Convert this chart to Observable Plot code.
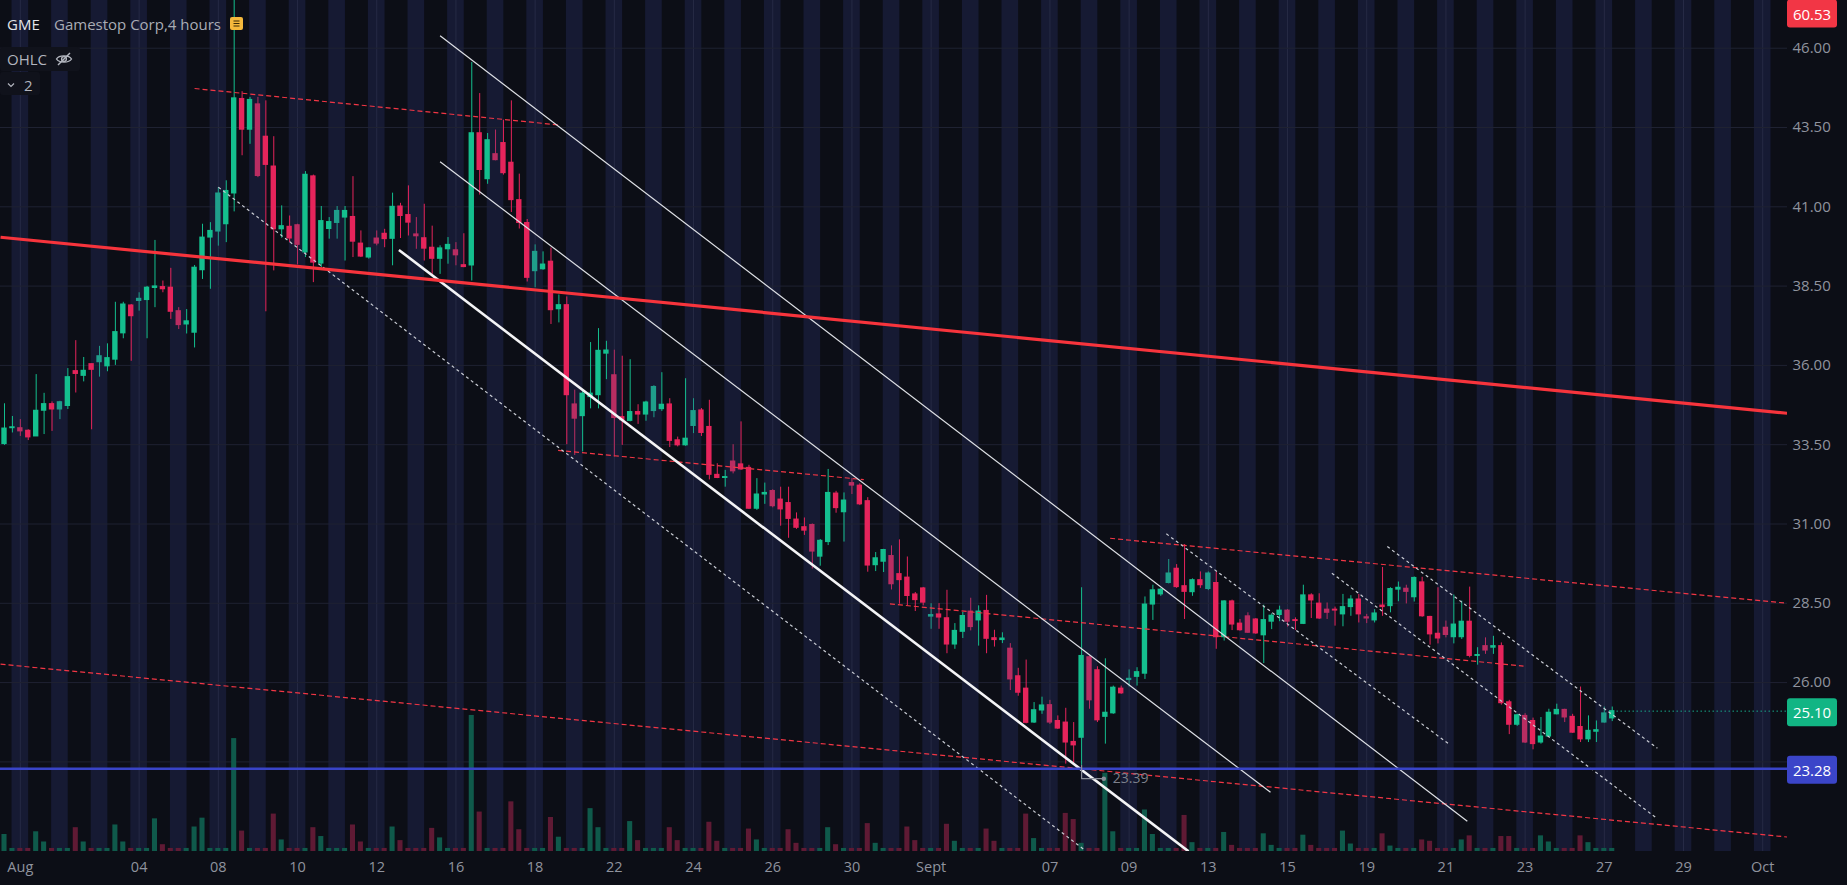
<!DOCTYPE html>
<html><head><meta charset="utf-8">
<script src="https://cdn.jsdelivr.net/npm/d3@7"></script>
<script src="https://cdn.jsdelivr.net/npm/@observablehq/plot@0.6"></script>
<style>
html,body{margin:0;padding:0;background:#0c0e16;}
#wrap{position:relative;width:1847px;height:885px;overflow:hidden;background:#0c0e16;font-family:"Open Sans",sans-serif;}
#wrap > svg{position:absolute;left:0;top:0;}
.lg{position:absolute;white-space:nowrap;font-size:15px;line-height:20px;}
</style></head><body><div id="wrap"></div>
<script>
// ---- candle data (4h bars, index 0 = Jul 29 3rd session bar) ----
const open = [
33.52,34.02,34.02,33.94,33.76, 34.57,34.78,34.61,34.72,35.82, 35.67,36.04,36.10,35.97,36.18,
37.01,37.89,38.03,38.06,38.44, 38.47,38.45,37.71,37.29,37.03, 39.00,40.03,40.22,40.45,41.42,
44.40,43.43,44.23,43.21,42.27, 40.29,40.37,40.42,39.56,41.96, 39.21,40.30,40.49,40.66,40.68,
39.84,39.40,40.00,40.15,39.99, 41.01,40.74,40.13,40.01,39.71, 39.36,39.66,39.63,39.16,39.15,
43.32,41.87,42.66,43.01,42.39, 41.21,40.49,38.97,39.03,39.27, 37.77,37.90,34.77,34.40,35.00,
35.06,36.37,35.69,34.37,34.25, 34.53,34.45,34.56,34.62,34.77, 33.64,33.48,34.09,34.58,34.06,
32.55,32.45,32.97,32.88,32.77, 31.48,31.93,32.04,31.77,31.66, 31.14,30.90,30.97,29.97,30.43,
31.96,31.37,32.29,32.21,31.72, 29.70,29.81,29.99,29.42,29.31, 28.78,28.97,28.08,28.15,28.03,
27.20,27.60,28.24,27.96,28.26, 27.40,27.34,27.07,26.20,25.81, 24.74,25.12,25.29,24.79,24.74,
24.13,24.26,26.80,26.39,24.92, 25.03,25.81,26.08,26.18,26.28, 28.46,28.78,29.14,29.59,29.04,
28.85,29.23,28.95,29.14,27.43, 28.56,27.86,28.09,27.99,27.49, 27.92,28.13,28.27,27.97,27.85,
28.75,28.49,28.30,28.30,28.15, 28.38,28.62,28.06,27.96,28.43, 28.41,28.93,28.96,28.69,29.16,
28.07,27.54,27.73,27.43,27.43, 27.92,26.84,27.15,27.10,27.15, 25.38,24.67,24.95,24.79,24.11,
24.30,25.00,25.14,24.92,24.60, 24.21,24.45,24.74,24.87];
const high = [
34.79,34.39,34.29,33.97,35.71, 35.12,34.85,34.87,35.90,36.78, 36.25,36.04,36.60,36.68,37.99,
37.99,37.92,38.29,38.49,39.94, 38.66,39.06,37.82,37.76,39.15, 40.45,40.50,41.61,41.82,48.00,
44.63,44.45,44.45,44.34,43.21, 41.03,40.71,40.45,42.11,42.00, 41.01,40.66,41.01,41.01,41.95,
40.24,39.71,40.24,40.29,41.43, 41.11,41.66,40.66,41.08,40.39, 39.77,40.03,39.87,40.15,45.55,
44.57,43.31,43.42,43.73,44.34, 42.03,40.60,39.80,39.58,39.70, 38.22,38.16,35.22,35.22,36.72,
37.16,36.76,36.48,36.29,36.18, 34.76,34.87,35.36,35.77,34.95, 33.74,35.58,34.95,34.64,34.90,
32.90,32.69,33.50,34.22,32.85, 32.43,32.29,32.08,32.16,32.16, 31.35,31.19,31.00,30.51,32.72,
32.03,31.98,32.43,32.27,31.83, 30.10,30.20,30.31,30.50,29.96, 28.84,29.00,28.49,28.49,28.91,
27.86,28.21,28.66,28.42,28.75, 27.65,27.57,27.23,26.45,26.71, 25.37,25.54,25.44,24.95,25.19,
24.74,28.99,26.84,26.50,26.75, 25.89,25.89,26.40,26.47,28.70, 29.07,28.96,29.88,29.72,30.35,
29.27,29.49,29.49,29.49,28.58, 28.60,27.99,28.20,28.02,28.44, 28.17,28.41,28.30,28.04,29.07,
28.80,28.80,28.51,28.38,28.78, 28.74,28.78,28.15,28.30,29.63, 28.99,29.17,29.07,29.33,29.32,
28.09,28.99,27.94,28.76,28.57, 29.01,27.10,27.41,27.46,27.25, 25.44,25.00,25.02,24.88,24.90,
25.16,25.32,25.16,25.00,25.86, 24.95,24.79,25.23,25.23];
const low = [
33.48,33.87,33.76,33.63,33.76, 33.82,33.92,34.29,34.61,35.13, 35.48,33.97,35.63,35.80,36.00,
36.84,36.13,37.71,36.84,37.82, 38.29,37.45,37.13,36.99,36.55, 38.71,38.40,39.76,39.87,40.84,
42.61,42.97,41.92,37.69,38.98, 40.01,39.87,39.17,39.40,38.61, 39.08,39.98,39.98,39.29,39.40,
39.40,39.35,39.77,39.71,39.14, 40.00,40.08,39.66,39.29,38.87, 38.87,39.19,39.14,39.08,38.66,
41.37,41.71,42.45,42.00,40.82, 40.30,38.63,38.45,39.00,37.29, 37.34,33.50,33.16,33.27,34.63,
34.63,35.55,33.11,33.48,34.22, 34.14,34.24,34.35,34.55,33.41, 33.43,33.45,33.85,33.76,32.39,
32.43,32.16,32.58,32.69,31.46, 31.43,31.62,31.51,30.93,30.55, 30.83,30.64,29.58,29.67,30.32,
31.34,30.43,31.93,31.58,29.48, 29.50,29.47,28.92,28.47,28.42, 28.24,28.42,27.68,27.68,26.91,
27.05,27.39,27.63,27.15,26.91, 27.12,27.23,25.75,25.57,24.70, 24.71,25.00,24.68,24.52,23.43,
23.43,23.39,25.16,24.74,24.06, 25.00,25.63,25.86,25.89,26.10, 27.96,28.72,29.11,28.97,27.99,
28.72,28.97,28.90,27.05,27.31, 27.64,27.62,27.55,27.52,26.60, 27.67,27.92,27.75,27.64,27.83,
28.02,27.99,27.99,27.78,27.76, 28.09,27.88,27.86,27.88,28.09, 28.20,28.55,28.48,28.54,28.06,
27.18,27.22,27.41,27.22,27.36, 26.78,26.55,26.89,26.89,25.29, 24.36,24.62,24.08,23.88,24.06,
24.28,24.98,24.74,24.40,24.11, 24.11,24.11,24.72,24.77];
const close = [
34.01,34.05,33.92,33.73,34.57, 34.78,34.61,34.84,35.63,35.73, 35.83,35.86,36.29,36.23,37.05,
37.92,37.55,38.10,38.45,38.49, 38.40,37.69,37.27,37.39,39.08, 40.03,40.24,41.42,41.50,44.42,
43.43,44.37,41.97,42.32,40.29, 40.39,40.00,39.80,42.01,39.24, 40.55,40.52,40.87,40.87,39.90,
39.43,39.69,39.84,39.98,41.00, 40.71,40.50,40.07,39.68,39.36, 39.69,39.80,39.47,39.10,43.32,
42.16,43.10,42.47,42.06,41.21, 40.49,38.76,39.58,39.18,37.74, 37.90,35.06,34.32,35.11,35.11,
36.46,36.47,34.34,34.27,34.53, 34.45,34.83,35.32,34.76,33.62, 33.48,33.69,34.56,33.87,32.55,
32.45,32.48,32.66,32.72,31.48, 31.93,31.98,31.56,31.46,31.16, 30.88,30.79,30.13,30.47,31.98,
31.50,31.74,32.21,31.62,29.69, 29.92,30.18,29.10,29.23,28.73, 28.60,28.52,28.13,28.05,27.20,
27.63,28.10,27.75,28.24,27.38, 27.34,27.39,26.10,25.68,24.73, 25.13,25.28,24.74,24.55,24.11,
24.02,26.84,25.44,24.81,25.05, 25.84,25.66,26.12,26.33,28.46, 28.91,28.93,29.44,29.01,28.86,
29.23,29.07,29.44,27.43,28.56, 27.83,27.65,27.57,27.55,27.97, 28.11,28.27,27.92,27.94,28.75,
28.59,28.02,28.20,28.27,28.38, 28.62,28.15,28.02,28.18,28.38, 28.95,28.99,28.86,29.30,28.09,
27.52,27.39,27.50,27.83,27.92, 26.84,26.87,27.01,27.15,25.35, 24.67,24.97,24.11,24.06,24.30,
25.05,25.14,24.90,24.42,24.21, 24.48,24.50,25.03,25.10];
// volume, millions
const volume = [
2.5,0.45,0.45,0.45,2.9, 1.4,0.45,0.45,0.45,3.5, 1.4,0.45,0.45,0.45,3.9, 1.4,0.45,0.45,0.45,4.8,
1.0,0.45,0.45,0.45,3.6, 4.9,0.45,0.45,0.45,16.6, 3.0,0.45,0.45,0.45,5.5, 1.7,0.45,0.45,0.45,3.5,
2.2,0.45,0.45,0.45,3.9, 1.4,0.45,0.45,0.45,3.6, 1.6,0.45,0.45,0.45,3.4, 2.0,0.45,0.45,0.45,20.0,
5.8,0.45,0.45,0.45,7.3, 3.2,0.45,0.45,0.45,5.0, 2.1,0.45,0.45,0.45,6.3, 3.5,0.45,0.45,0.45,4.4,
1.6,0.45,0.45,0.45,3.5, 1.6,0.45,0.45,0.45,4.3, 1.5,0.45,0.45,0.45,3.3, 1.7,0.45,0.45,0.45,3.2,
1.2,0.45,0.45,0.45,3.5, 1.0,0.45,0.45,0.45,4.1, 1.2,0.45,0.45,0.45,3.6, 1.6,0.45,0.45,0.45,4.0,
1.5,0.45,0.45,0.45,3.3, 1.5,0.45,0.45,0.45,5.5, 1.9,0.45,0.45,0.45,5.6, 4.7,1.2,0.45,0.45,11.5,
2.9,0.45,0.45,0.45,6.1, 2.5,0.45,0.45,0.45,5.3, 1.3,0.45,0.45,0.45,2.8, 0.9,0.45,0.45,0.45,2.6,
0.9,0.45,0.45,0.45,2.4, 0.9,0.45,0.45,0.45,3.0, 1.1,0.45,0.45,0.45,2.6, 0.8,0.45,0.45,0.45,1.7,
1.5,0.45,0.45,0.45,1.7, 2.3,0.45,0.45,0.45,2.2, 2.2,0.45,0.45,0.45,2.3, 1.4,0.45,0.45,0.45,2.3,
1.3,0.45,0.45,0.45];

// ---- time axis ----
const barsPerDay = 5;
const firstDayBar = 2;            // first bar of Aug 1
const tradingDays = 45;           // Aug 1 .. Oct 3
const tickDays   = [0,3,5,7,9,11,13,15,17,19,21,23,26,28,30,32,34,36,38,40,42,44];
const tickLabels = ["Aug","04","08","10","12","16","18","22","24","26","30","Sept","07","09","13","15","19","21","23","27","29","Oct"];
const dayBar = d => firstDayBar + barsPerDay * d;

// ---- price axis ----
const priceTicks = [26, 28.5, 31, 33.5, 36, 38.5, 41, 43.5, 46];
const gridPrices = [23.5, ...priceTicks];
const xDomain = [-0.505, 225.13];
const yDomain = [20.675, 47.504];
const volDomain = [0, 125.1];

// ---- drawings (bar index, price) ----
const drawings = [
  {kind:"trend",     x1:-0.5,  y1:40.04, x2:225.13, y2:34.49},
  {kind:"redDash",   x1:24,    y1:44.73, x2:70,     y2:43.58},
  {kind:"white",     x1:55,    y1:46.39, x2:184.7,  y2:21.63},
  {kind:"white",     x1:55,    y1:42.42, x2:159.85, y2:22.54},
  {kind:"whiteBold", x1:49.8,  y1:39.64, x2:149.5,  y2:20.68},
  {kind:"whiteDash", x1:27.0,  y1:41.62, x2:136.5,  y2:20.70},
  {kind:"redDash",   x1:69.9,  y1:33.32, x2:108.5,  y2:32.40},
  {kind:"redDash",   x1:111.8, y1:28.48, x2:191.8,  y2:26.52},
  {kind:"redDash",   x1:139.6, y1:30.55, x2:225.13, y2:28.50},
  {kind:"redDash",   x1:-0.5,  y1:26.58, x2:225.13, y2:21.13},
  {kind:"whiteDash", x1:146.7, y1:30.69, x2:182.5,  y2:24.04},
  {kind:"whiteDash", x1:167.6, y1:29.45, x2:208.7,  y2:21.71},
  {kind:"whiteDash", x1:174.6, y1:30.29, x2:208.7,  y2:23.93}
];
const supportLevel = 23.28;
const lowMark = {label:"23.39"};
const lowBracket = [{x:136, y:23.39}, {x:136, y:22.97}, {x:138.8, y:22.97}];
const priceTags = [
  {value:60.53, text:"60.53", color:"#f23645"},
  {value:25.10, text:"25.10", color:"#12b584"},
  {value:23.28, text:"23.28", color:"#3b45c9"}
];

// ---- build ----
const bars = open.map((o, i) => ({i, open:o, high:high[i], low:low[i], close:close[i], vol:volume[i],
  up: close[i] >= o, pre: (i - firstDayBar) % barsPerDay === 0}));
const lastBar = bars[bars.length - 1];
const upC = "#14bf8e", dnC = "#e6245b", upPre = "#1f9e8b", dnPre = "#b92d62";
const col = d => d.up ? (d.pre ? upPre : upC) : (d.pre ? dnPre : dnC);
const vcol = d => d.up ? "#0f5a4b" : "#5f1a34";

const W = 1847, H = 885;
const common = {width: W, height: H, marginLeft: 0, marginRight: 60, marginTop: 0, marginBottom: 34};
const baseStyle = {background: "transparent", fontFamily: "'Open Sans', sans-serif", color: "#8f939e", overflow: "hidden"};

const wrap = document.getElementById("wrap");

// layer 1: session stripes and grid
const bg = Plot.plot({
  ...common, style: baseStyle,
  x: {domain: xDomain, axis: null}, y: {domain: yDomain, axis: null},
  marks: [
    Plot.barX(d3.range(tradingDays), {x1: d => dayBar(d) - 1.05, x2: d => dayBar(d) + 1.05, fill: "#161a33"}),
    Plot.ruleX(tickDays, {x: d => dayBar(d), stroke: "#262a45", strokeWidth: 1}),
    Plot.ruleY(gridPrices, {stroke: "#1f2232", strokeWidth: 1})
  ]
});
wrap.appendChild(bg);

// layer 2: volume
const vol = Plot.plot({
  ...common, style: baseStyle,
  x: {domain: xDomain, axis: null}, y: {domain: volDomain, axis: null},
  marks: [
    Plot.rect(bars, {x1: d => d.i - 0.32, x2: d => d.i + 0.32, y1: 0, y2: "vol", fill: vcol})
  ]
});
wrap.appendChild(vol);

// layer 3: candles, drawings, axes
const link = (kind, o) => Plot.link(drawings.filter(d => d.kind === kind), {x1:"x1", y1:"y1", x2:"x2", y2:"y2", clip: true, ...o});
const main = Plot.plot({
  ...common, style: baseStyle,
  x: {domain: xDomain}, y: {domain: yDomain},
  marks: [
    Plot.ruleX(bars, {x: "i", y1: "low", y2: "high", stroke: col, strokeWidth: 1, clip: true}),
    Plot.rect(bars, {x1: d => d.i - 0.34, x2: d => d.i + 0.34, y1: "open", y2: "close", fill: col, insetTop: -0.5, insetBottom: -0.5}),
    link("redDash",   {stroke: "#f23645", strokeWidth: 1.2, strokeDasharray: "5,3"}),
    link("whiteDash", {stroke: "#c9ccd4", strokeWidth: 1.2, strokeDasharray: "3,3"}),
    link("white",     {stroke: "#dfe1e6", strokeWidth: 1.2}),
    link("whiteBold", {stroke: "#f4f4f6", strokeWidth: 2.6}),
    link("trend",     {stroke: "#f7343c", strokeWidth: 3.2}),
    Plot.ruleY([supportLevel], {stroke: "#3944c8", strokeWidth: 2.5}),
    Plot.ruleY([lastBar.close], {x1: lastBar.i + 0.6, x2: xDomain[1], stroke: "#17a88a", strokeWidth: 1, strokeDasharray: "1.5,2.5"}),
    Plot.line(lowBracket, {x: "x", y: "y", stroke: "#8a8e99", strokeWidth: 1.2}),
    Plot.dot([lowBracket[2]], {x: "x", y: "y", r: 2.3, fill: "#8a8e99"}),
    Plot.text([lowBracket[2]], {x: "x", y: "y", text: () => lowMark.label, dx: 9, textAnchor: "start", fill: "#7d818c", fontSize: 14}),
    Plot.axisY(priceTicks, {anchor: "right", tickSize: 0, tickPadding: 5, tickFormat: d => d.toFixed(2), fontSize: 15, label: null}),
    Plot.axisX(tickDays.map(dayBar), {anchor: "bottom", tickSize: 0, tickPadding: 10, fontSize: 14.5, label: null,
      tickFormat: b => tickLabels[tickDays.indexOf((b - firstDayBar) / barsPerDay)]})
  ]
});
wrap.appendChild(main);

// price tags on the right scale
const ys = main.scale("y");
const tagG = d3.select(main).append("g");
priceTags.forEach(t => {
  const cy = Math.max(ys.apply(t.value) + 1.5, 13.5);
  const g = tagG.append("g");
  g.append("rect").attr("x", W - common.marginRight).attr("y", cy - 14).attr("width", 50).attr("height", 28)
    .attr("rx", 3).attr("fill", t.color);
  g.append("text").attr("x", W - common.marginRight + 25).attr("y", cy).attr("text-anchor", "middle")
    .attr("dominant-baseline", "central").attr("fill", "#ffffff").attr("font-size", 15)
    .attr("font-family", "'Open Sans', sans-serif").text(t.text);
});

// legend overlay
const legend = document.createElement("div");
legend.innerHTML = `
  <div class="lg" style="left:7px;top:14px;color:#e3e5ea;">GME</div>
  <div class="lg" style="left:54px;top:14px;color:#a9acb5;">Gamestop Corp,4 hours</div>
  <svg style="position:absolute;left:230px;top:17px" width="13" height="13" viewBox="0 0 13 13">
    <rect width="13" height="13" rx="2" fill="#f5b93c"/>
    <path d="M3.5 4h6M3.5 6.5h6M3.5 9h6" stroke="#3a2a05" stroke-width="1.2"/>
  </svg>
  <div style="position:absolute;left:0;top:47px;width:80px;height:24px;background:#10121b;border-radius:3px"></div>
  <div class="lg" style="left:7px;top:49px;color:#b2b5be;">OHLC</div>
  <svg style="position:absolute;left:55px;top:50px" width="18" height="18" viewBox="0 0 18 18">
    <path d="M1.5 9C4 4.8 14 4.8 16.5 9C14 13.2 4 13.2 1.5 9Z" fill="none" stroke="#b2b5be" stroke-width="1.4"/>
    <circle cx="9" cy="9" r="2.4" fill="none" stroke="#b2b5be" stroke-width="1.4"/>
    <path d="M3 15L15 3" stroke="#b2b5be" stroke-width="1.4"/>
  </svg>
  <div style="position:absolute;left:0;top:72px;width:40px;height:23px;background:#10121b;border-radius:3px"></div>
  <svg style="position:absolute;left:7px;top:82px" width="8" height="6" viewBox="0 0 8 6"><path d="M1 1.5L4 4.5L7 1.5" fill="none" stroke="#b2b5be" stroke-width="1.2"/></svg>
  <div class="lg" style="left:24px;top:75px;color:#b2b5be;">2</div>`;
wrap.appendChild(legend);
</script>
</body></html>
